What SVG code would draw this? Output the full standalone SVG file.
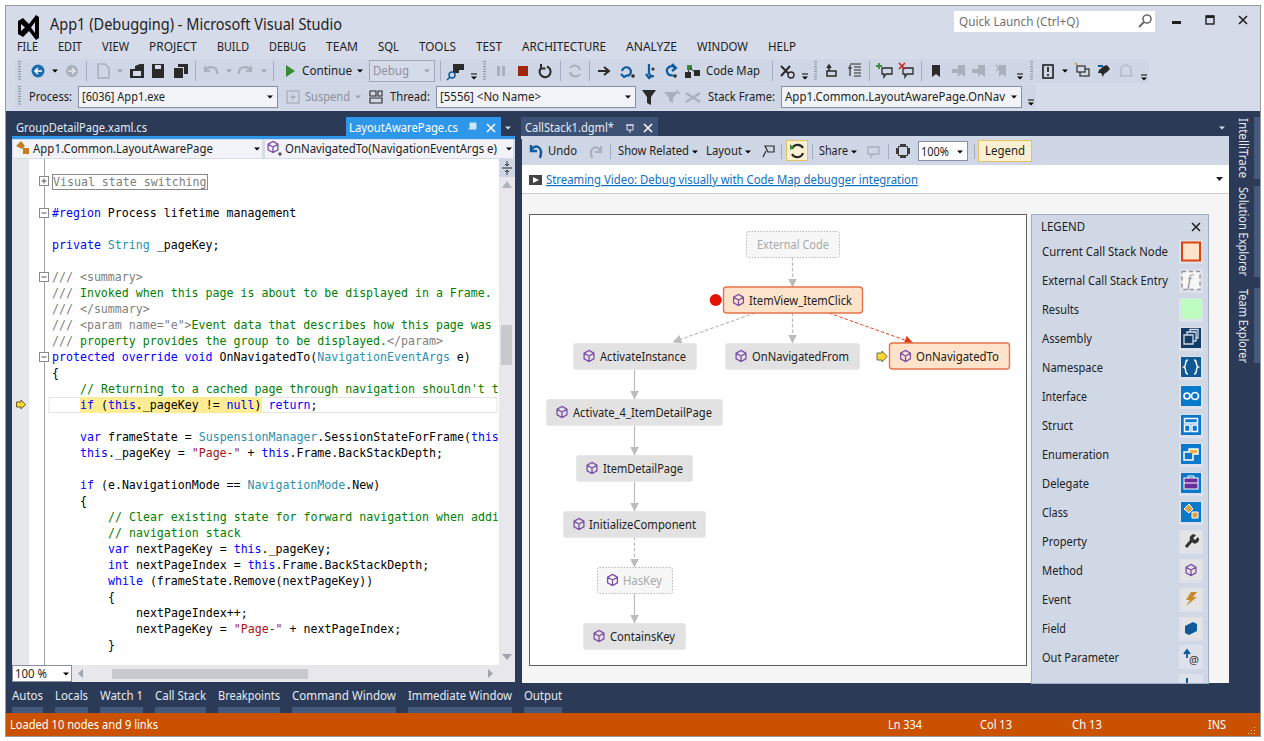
<svg xmlns="http://www.w3.org/2000/svg" width="1264" height="741" viewBox="0 0 1264 741">
<style>
text{font-family:"Noto Sans","Open Sans","Liberation Sans",sans-serif;font-size:12px;fill:#1e1e1e}
.title{font-size:16px}
.g{fill:#8d929c}
.lt{fill:#e6eaf2}
.w{fill:#fff}
.c{font-family:"DejaVu Sans Mono","Liberation Mono",monospace;font-size:11.6px;fill:#000}
.k{fill:#0000ff}.t{fill:#2b91af}.m{fill:#008000}.d{fill:#808080}.s{fill:#a31515}
.combo{fill:#f1f3f9;stroke:#8590a6}
.sep{stroke:#a4adc0;stroke-width:1}
.grip{stroke:#8b93a4;stroke-width:3;stroke-dasharray:1 1.5;fill:none}
.caret{fill:#1e1e1e}
.gc{fill:#9aa0ac}
.ic{fill:#2a2a2a}
.gi{fill:#a9afbb}
.bi{fill:#0e5a9c}
.node{fill:#e2e2e2;stroke:#e8e8e8}
.cur{fill:#fde3c9;stroke:#e8734a;stroke-width:1.4}
.ext{fill:#f7f7f7;stroke:#b9b9b9;stroke-dasharray:1.5 1.5}
.lnk{fill:none;stroke:#bcbcbc;stroke-width:1.2}
.dash{stroke-dasharray:3.500 2}
.red{stroke:#e8431a;stroke-width:1}
.halo{fill:#dce1ec}
.btn{fill:#fdf0d2;stroke:#e5c365}
.bar{fill:#45597c}
.fold{fill:#fff;stroke:#8a8a8a}
</style>
<defs>
<g id="method"><path d="M0-5.6 4.9-2.8V2.8L0 5.6-4.9 2.8V-2.8ZM-4.9-2.8 0 0 4.9-2.8M0 0V5.6" fill="none" stroke="#7b4fa8" stroke-width="1.3"/></g>
<path id="cr" d="M-3-1.6H3L0 1.6Z"/>
<path id="over" d="M-3-3.5H3V-2.5H-3ZM-3-.5H3L0 2.5Z"/>
<marker id="ah" markerWidth="9" markerHeight="10" refX="8.5" refY="4.5" orient="auto" markerUnits="userSpaceOnUse"><path d="M0 0 9 4.5 0 9Z" fill="#bcbcbc"/></marker>
<marker id="ahr" markerWidth="9" markerHeight="10" refX="8.5" refY="4.5" orient="auto" markerUnits="userSpaceOnUse"><path d="M0 0 9 4.5 0 9Z" fill="#e03c10"/></marker>
<clipPath id="code"><rect x="30" y="160" width="468" height="505"/></clipPath>
<clipPath id="leg"><rect x="1031" y="214" width="178" height="469"/></clipPath>
</defs>

<rect width="1264" height="741" fill="#fff"/>
<rect x="5.5" y="5.5" width="1255" height="731" fill="#d6dbe9" stroke="#9b9b9b"/>

<g id="titlebar">
<path d="M18 21 23 18 29 24 36 15 39 17V38L36 40 29 31 23 37 18 34ZM21 24V31L25 27.500ZM35 22 31 27.500 35 33Z" fill="#000" fill-rule="evenodd"/>
<text class="title" x="50" y="30" textLength="292" lengthAdjust="spacingAndGlyphs">App1 (Debugging) - Microsoft Visual Studio</text>
<rect x="954" y="11" width="201" height="21" fill="#fff"/>
<text x="959" y="26" style="fill:#717171" textLength="120" lengthAdjust="spacingAndGlyphs">Quick Launch (Ctrl+Q)</text>
<circle cx="1147" cy="19" r="4" fill="none" stroke="#6b6b6b" stroke-width="1.6"/><path d="M1144 22 1139 27" stroke="#6b6b6b" stroke-width="2"/>
<rect x="1172" y="21" width="9" height="3" fill="#1e1e1e"/>
<rect x="1206" y="16" width="8" height="8" fill="none" stroke="#1e1e1e" stroke-width="1.4"/><rect x="1206" y="15.500" width="8" height="2.500" fill="#1e1e1e"/>
<path d="M1239 16 1247 24M1247 16 1239 24" stroke="#1e1e1e" stroke-width="1.6"/>
</g>

<g id="menu">
<text x="17" y="51" textLength="21" lengthAdjust="spacingAndGlyphs">FILE</text>
<text x="58" y="51" textLength="24" lengthAdjust="spacingAndGlyphs">EDIT</text>
<text x="102" y="51" textLength="27" lengthAdjust="spacingAndGlyphs">VIEW</text>
<text x="149" y="51" textLength="48" lengthAdjust="spacingAndGlyphs">PROJECT</text>
<text x="217" y="51" textLength="32" lengthAdjust="spacingAndGlyphs">BUILD</text>
<text x="269" y="51" textLength="37" lengthAdjust="spacingAndGlyphs">DEBUG</text>
<text x="326" y="51" textLength="32" lengthAdjust="spacingAndGlyphs">TEAM</text>
<text x="378" y="51" textLength="21" lengthAdjust="spacingAndGlyphs">SQL</text>
<text x="419" y="51" textLength="37" lengthAdjust="spacingAndGlyphs">TOOLS</text>
<text x="476" y="51" textLength="26" lengthAdjust="spacingAndGlyphs">TEST</text>
<text x="522" y="51" textLength="84" lengthAdjust="spacingAndGlyphs">ARCHITECTURE</text>
<text x="626" y="51" textLength="51" lengthAdjust="spacingAndGlyphs">ANALYZE</text>
<text x="697" y="51" textLength="51" lengthAdjust="spacingAndGlyphs">WINDOW</text>
<text x="768" y="51" textLength="28" lengthAdjust="spacingAndGlyphs">HELP</text>
</g>

<g id="toolbars">
<rect x="15" y="59" width="1134" height="24" fill="#cfd6e5"/>
<rect x="15" y="84" width="1021" height="25" fill="#cfd6e5"/>
<path class="grip" d="M19.500 61V81M19.500 86V106M484.500 61V81M815.500 61V81M1031.500 61V81"/>
<circle cx="38" cy="71" r="6.500" fill="#1b6db0"/><path d="M35 71H42M38 68 35 71 38 74" stroke="#fff" stroke-width="1.6" fill="none"/>
<use href="#cr" x="55" y="71"/>
<circle cx="72" cy="71" r="6" fill="#a9afbb"/><path d="M68 71H75M72 68 75 71 72 74" stroke="#e6e9f0" stroke-width="1.5" fill="none"/>
<path class="sep" d="M86.500 61V81M195.500 61V81M273.500 61V81M440.500 61V81M560.500 61V81M589.500 61V81M772.500 61V81M869.500 61V81M921.500 61V81"/>
<path d="M98 64H105L109 68V78H98Z" fill="none" stroke="#a9afbb" stroke-width="1.5"/>
<use href="#cr" x="120" y="71" class="gc"/>
<path class="ic" d="M130 69H135V66L140 64H144V78H130Z"/><rect x="133" y="71" width="8" height="5" fill="#d6dbe9"/>
<path class="ic" d="M152 64H164V78H152Z"/><rect x="155" y="65" width="6" height="4" fill="#d6dbe9"/>
<path class="ic" d="M174 68H183V78H174ZM178 64H188V74H184V67H178Z"/>
<path d="M205 66V71H210M205 71C208 65 218 66 217 74" fill="none" stroke="#a9afbb" stroke-width="2.200"/>
<use href="#cr" x="229" y="71" class="gc"/>
<path d="M251 66V71H246M251 71C248 65 238 66 239 74" fill="none" stroke="#a9afbb" stroke-width="2.200"/>
<use href="#cr" x="264" y="71" class="gc"/>
<path d="M286 65 295 71 286 77Z" fill="#388a34"/>
<text x="302" y="75" textLength="50" lengthAdjust="spacingAndGlyphs">Continue</text>
<use href="#cr" x="360" y="71"/>
<rect x="369.500" y="60.500" width="65" height="21" fill="#d6dbe9" stroke="#a0a8b8"/>
<text class="g" x="373" y="75" textLength="36" lengthAdjust="spacingAndGlyphs">Debug</text>
<use href="#cr" x="427" y="71" class="gc"/>
<path class="ic" d="M453 64H464V70H459V73H453Z"/><circle cx="452" cy="75" r="3" fill="none" stroke="#0e5a9c" stroke-width="1.500"/><path d="M450 77 447 80" stroke="#0e5a9c" stroke-width="1.500"/>
<use href="#over" x="474" y="77"/>
<path class="gi" d="M497 66H500V76H497ZM502 66H505V76H502Z"/>
<rect x="518" y="66" width="10" height="10" fill="#a1260d"/>
<path d="M541 68A5.500 5.500 0 1 0 547 66.500M541 64V68.500H545.500" fill="none" stroke="#2a2a2a" stroke-width="2"/>
<path d="M570 68A5.500 5.500 0 0 1 580 70M580 74A5.500 5.500 0 0 1 570 72" fill="none" stroke="#a9afbb" stroke-width="2"/>
<path d="M598 71H608M604 67 609 71 604 75" fill="none" stroke="#2a2a2a" stroke-width="2"/>
<path d="M622 71A4.500 4.500 0 1 1 628 76M621 74 624 77 628 75" fill="none" stroke="#0e5a9c" stroke-width="2.200"/><circle cx="633" cy="76" r="1.800" class="ic"/>
<path d="M649 64V71A4 4 0 0 0 654 76M646 74 649 78 652 76" fill="none" stroke="#0e5a9c" stroke-width="2.200"/><circle cx="653" cy="69" r="1.500" class="ic"/>
<path d="M675 68A4.500 4.500 0 1 0 673 75M672 64 676 68 672 71" fill="none" stroke="#0e5a9c" stroke-width="2.200"/><circle cx="675" cy="76" r="1.800" class="ic"/>
<path d="M687 65H692V70H687Z" fill="#388a34"/><path class="ic" d="M694 70H700V76H694ZM685 72H691V78H685Z"/><path d="M690 68 696 73M689 70 688 73" stroke="#2a2a2a"/>
<text x="706" y="75" textLength="54" lengthAdjust="spacingAndGlyphs">Code Map</text>
<path d="M781 66 791 76M781 76 790 66" stroke="#2a2a2a" stroke-width="2"/><circle cx="791" cy="75" r="3" fill="#d6dbe9" stroke="#2a2a2a" stroke-width="1.400"/>
<use href="#over" x="805" y="77"/>
<path d="M827 71H836V76H827ZM829 71V66M827 68 829 65 831 68" fill="none" stroke="#2a2a2a" stroke-width="1.500"/>
<path d="M850 64H861M854 67H861M854 70H861M854 73H861M854 76H861M850 65V76M848 68H852" fill="none" stroke="#2a2a2a" stroke-width="1.200"/>
<path d="M882 68H892V74H886L884 77V74H882Z" fill="none" stroke="#2a2a2a" stroke-width="1.300"/><path d="M876 66H882M879 63V69" stroke="#388a34" stroke-width="1.800"/>
<path d="M903 68H913V74H907L905 77V74H903Z" fill="none" stroke="#2a2a2a" stroke-width="1.300"/><path d="M899 63 905 69M905 63 899 69" stroke="#c5291c" stroke-width="1.700"/>
<path class="ic" d="M932 65H940V77L936 74 932 77Z"/>
<path class="gi" d="M958 65H965V77L961 74 958 77ZM952 69H958V73H952Z"/>
<path class="gi" d="M978 65H985V77L981 74 978 77ZM972 69H978V73H972Z"/>
<path class="gi" d="M999 65H1006V77L1002 74 999 77Z"/><path d="M996 65 1002 71M1002 65 996 71" stroke="#a9afbb" stroke-width="1.600"/>
<use href="#over" x="1020" y="77"/>
<rect x="1043" y="65" width="10" height="13" fill="none" stroke="#2a2a2a" stroke-width="1.700"/><path d="M1048 67V72M1048 74V76" stroke="#2a2a2a" stroke-width="1.800"/>
<use href="#cr" x="1065" y="71"/>
<rect x="1080" y="69" width="9" height="7" fill="none" stroke="#2a2a2a" stroke-width="1.200"/><rect x="1077" y="66" width="8" height="6" fill="#d6dbe9" stroke="#2a2a2a" stroke-width="1.200"/><path d="M1075 63 1077 65" stroke="#c98a1a" stroke-width="1.500"/>
<path class="ic" d="M1099 70 1104 66 1107 65 1110 69 1107 72 1104 74 1103 77 1101 73 1098 73Z"/><path d="M1098 66H1103" stroke="#0e5a9c" stroke-width="2"/>
<path d="M1121 76V70A5 5 0 0 1 1131 70V76M1120 76H1133" fill="none" stroke="#b7bcc8" stroke-width="1.600"/>
<use href="#over" x="1144" y="78"/>
<text x="29" y="101" textLength="43" lengthAdjust="spacingAndGlyphs">Process:</text>
<rect class="combo" x="78.500" y="86.500" width="199" height="21"/>
<text x="82" y="101" textLength="83" lengthAdjust="spacingAndGlyphs">[6036] App1.exe</text>
<use href="#cr" x="270" y="97"/>
<rect x="287" y="91" width="12" height="12" fill="none" stroke="#a9afbb" stroke-width="1.300"/><path d="M294 93 290 98H293L292 101 296 96H293Z" class="gi"/>
<text class="g" x="305" y="101" textLength="45" lengthAdjust="spacingAndGlyphs">Suspend</text>
<use href="#cr" x="358" y="97" class="gc"/>
<path d="M370 91H376V96H370ZM370 98H382V103H370ZM378 91H382V96H378Z" fill="none" stroke="#2a2a2a" stroke-width="1.100"/>
<text x="390" y="101" textLength="40" lengthAdjust="spacingAndGlyphs">Thread:</text>
<rect class="combo" x="436.500" y="86.500" width="199" height="21"/>
<text x="440" y="101" textLength="101" lengthAdjust="spacingAndGlyphs">[5556] &lt;No Name&gt;</text>
<use href="#cr" x="628" y="97"/>
<path class="ic" d="M642 90H656L651 97V105L647 103V97Z"/>
<path class="gi" d="M664 92H678L673 98V103L669 101V98Z"/><path d="M676 90 680 94" stroke="#a9afbb" stroke-width="1.500"/>
<path d="M686 93 700 102M686 102 700 93" stroke="#a9afbb" stroke-width="2.200"/>
<text x="708" y="101" textLength="67" lengthAdjust="spacingAndGlyphs">Stack Frame:</text>
<rect class="combo" x="781.500" y="86.500" width="240" height="21"/>
<text x="785" y="101" textLength="220" lengthAdjust="spacingAndGlyphs">App1.Common.LayoutAwarePage.OnNav</text>
<use href="#cr" x="1014" y="97"/>
<use href="#over" x="1031" y="103"/>
</g>

<g id="dock">
<rect x="6" y="111" width="1254" height="602" fill="#2a3a57"/>
<text class="lt" x="16" y="132" textLength="131" lengthAdjust="spacingAndGlyphs">GroupDetailPage.xaml.cs</text>
<rect x="346" y="117" width="155" height="19" fill="#2f97ea"/>
<text class="w" x="349" y="132" textLength="109" lengthAdjust="spacingAndGlyphs">LayoutAwarePage.cs</text>
<path d="M470 123H476V129H470ZM468 130 471 127" fill="#cfe6fa" stroke="#cfe6fa"/>
<path d="M487 124 495 132M495 124 487 132" stroke="#fff" stroke-width="1.500"/>
<use href="#cr" x="508" y="128" fill="#d6dbe9"/>
<rect x="521" y="117" width="137" height="19" fill="#3d5174"/>
<text class="lt" x="525" y="132" textLength="89" lengthAdjust="spacingAndGlyphs">CallStack1.dgml*</text>
<path d="M627 125V130H633V125ZM630 130V133M626 125H634" fill="none" stroke="#dfe4ee"/>
<path d="M644 124 652 132M652 124 644 132" stroke="#fff" stroke-width="1.500"/>
<use href="#cr" x="1222" y="128" fill="#d6dbe9"/>
<rect x="12" y="136" width="503" height="3" fill="#2f97ea"/>
<rect x="521" y="136" width="708" height="3" fill="#cfd6e5"/>
<g id="side-tabs">
<rect x="1254" y="117" width="6" height="62" class="bar"/>
<rect x="1254" y="186" width="6" height="91" class="bar"/>
<rect x="1254" y="288" width="6" height="75" class="bar"/>
<text class="lt" transform="translate(1239 118) rotate(90)" textLength="60" lengthAdjust="spacingAndGlyphs">IntelliTrace</text>
<text class="lt" transform="translate(1239 187) rotate(90)" textLength="89" lengthAdjust="spacingAndGlyphs">Solution Explorer</text>
<text class="lt" transform="translate(1239 289) rotate(90)" textLength="74" lengthAdjust="spacingAndGlyphs">Team Explorer</text>
</g>
</g>

<g id="editor">
<rect x="12" y="139" width="503" height="543" fill="#fff"/>
<rect x="12" y="139" width="503" height="20" fill="#d6dbe9"/>
<rect class="combo" x="12.500" y="139.500" width="250" height="19" style="stroke:#d6dbe9"/>
<rect class="combo" x="264.500" y="139.500" width="249" height="19" style="stroke:#d6dbe9"/>
<path d="M16 146 21 141 25 146 22 149ZM23 148H29V154H23Z" fill="#c67b1c"/>
<text x="33" y="153" textLength="180" lengthAdjust="spacingAndGlyphs">App1.Common.LayoutAwarePage</text>
<use href="#cr" x="257" y="149"/>
<g transform="translate(273 147)"><use href="#method"/></g><path d="M278 154H282M280 152V156" stroke="#2a2a2a"/>
<text x="285" y="153" textLength="212" lengthAdjust="spacingAndGlyphs">OnNavigatedTo(NavigationEventArgs e)</text>
<use href="#cr" x="509" y="149"/>
<rect x="12" y="159" width="17" height="506" fill="#e6e7e8"/>
<path d="M44.500 159V665" stroke="#a5a5a5"/>
<rect x="49" y="397.500" width="448" height="15" fill="#fff" stroke="#e4e4e4"/>
<rect x="80" y="397" width="182" height="16" fill="#fdec92"/>
<rect x="52.500" y="174.500" width="155" height="15" fill="#fff" stroke="#8a8a8a"/>
<g><rect class="fold" x="39.500" y="176.500" width="9" height="9"/><path d="M41.500 181H46.500M44 178.500V183.500" stroke="#555"/>
<rect class="fold" x="39.500" y="208.500" width="9" height="9"/><path d="M41.500 213H46.500" stroke="#555"/>
<rect class="fold" x="39.500" y="272.500" width="9" height="9"/><path d="M41.500 277H46.500" stroke="#555"/>
<rect class="fold" x="39.500" y="352.500" width="9" height="9"/><path d="M41.500 357H46.500" stroke="#555"/></g>
<path d="M16.500 402H21V400L25.500 404.500 21 409V407H16.500Z" fill="#fdd835" stroke="#6a5a20"/>
<g clip-path="url(#code)">
<text class="c d" x="53" y="186">Visual state switching</text>
<text class="c" x="52" y="217"><tspan class="k">#region</tspan> Process lifetime management</text>
<text class="c" x="52" y="249"><tspan class="k">private</tspan> <tspan class="t">String</tspan> _pageKey;</text>
<text class="c d" x="52" y="281">/// &lt;summary&gt;</text>
<text class="c m" x="52" y="297"><tspan class="d">///</tspan> Invoked when this page is about to be displayed in a Frame.</text>
<text class="c d" x="52" y="313">/// &lt;/summary&gt;</text>
<text class="c m" x="52" y="329"><tspan class="d">/// &lt;param name="e"&gt;</tspan>Event data that describes how this page was</text>
<text class="c m" x="52" y="345"><tspan class="d">///</tspan> property provides the group to be displayed.<tspan class="d">&lt;/param&gt;</tspan></text>
<text class="c" x="52" y="361"><tspan class="k">protected override void</tspan> OnNavigatedTo(<tspan class="t">NavigationEventArgs</tspan> e)</text>
<text class="c" x="52" y="377">{</text>
<text class="c m" x="80" y="393">// Returning to a cached page through navigation shouldn't t</text>
<text class="c" x="80" y="409"><tspan class="k">if</tspan> (<tspan class="k">this</tspan>._pageKey != <tspan class="k">null</tspan>) <tspan class="k">return</tspan>;</text>
<text class="c" x="80" y="441"><tspan class="k">var</tspan> frameState = <tspan class="t">SuspensionManager</tspan>.SessionStateForFrame(<tspan class="k">this</tspan></text>
<text class="c" x="80" y="457"><tspan class="k">this</tspan>._pageKey = <tspan class="s">"Page-"</tspan> + <tspan class="k">this</tspan>.Frame.BackStackDepth;</text>
<text class="c" x="80" y="489"><tspan class="k">if</tspan> (e.NavigationMode == <tspan class="t">NavigationMode</tspan>.New)</text>
<text class="c" x="80" y="505">{</text>
<text class="c m" x="108" y="521">// Clear existing state for forward navigation when addi</text>
<text class="c m" x="108" y="537">// navigation stack</text>
<text class="c" x="108" y="553"><tspan class="k">var</tspan> nextPageKey = <tspan class="k">this</tspan>._pageKey;</text>
<text class="c" x="108" y="569"><tspan class="k">int</tspan> nextPageIndex = <tspan class="k">this</tspan>.Frame.BackStackDepth;</text>
<text class="c" x="108" y="585"><tspan class="k">while</tspan> (frameState.Remove(nextPageKey))</text>
<text class="c" x="108" y="601">{</text>
<text class="c" x="136" y="617">nextPageIndex++;</text>
<text class="c" x="136" y="633">nextPageKey = <tspan class="s">"Page-"</tspan> + nextPageIndex;</text>
<text class="c" x="108" y="649">}</text>
</g>
<rect x="499" y="159" width="16" height="506" fill="#e8e8ec"/>
<rect x="499" y="159" width="16" height="18" fill="#cfd6e5"/>
<path d="M502 168H512M507 161V166M505 164 507 166 509 164M507 175V170M505 172 507 170 509 172" stroke="#2a2a2a" fill="none"/>
<path d="M502 188 507 181 512 188Z" fill="#b0b4bd"/>
<rect x="501" y="325" width="11" height="40" fill="#c8c9cf"/>
<path d="M502 654 512 654 507 660Z" fill="#a0a4ae"/>
<rect x="12" y="665" width="503" height="17" fill="#e8e8ec"/>
<rect x="12.500" y="665.500" width="59" height="16" fill="#fff" stroke="#8590a6"/>
<text x="15" y="678" textLength="32" lengthAdjust="spacingAndGlyphs">100 %</text>
<use href="#cr" x="66" y="674"/>
<path d="M83 669V678L78 673.500Z" fill="#a0a4ae"/>
<rect x="112" y="669" width="196" height="10" fill="#c8c9cf"/>
<path d="M488 669V678L493 673.500Z" fill="#a0a4ae"/>
</g>

<g id="map-pane">
<rect x="522" y="139" width="707" height="26" fill="#cfd6e5"/>
<path d="M531 145V151H537M531 151C534 143 544 146 540 158" fill="none" stroke="#0e5a9c" stroke-width="2.400"/>
<text x="548" y="155" textLength="29" lengthAdjust="spacingAndGlyphs">Undo</text>
<path d="M601 146V152H595M601 152C598 144 588 147 592 158" fill="none" stroke="#a9afbb" stroke-width="2.200"/>
<path class="sep" d="M610.500 144V159M781.500 144V159M812.500 144V159M888.500 144V159M974.500 144V159"/>
<text x="618" y="155" textLength="71" lengthAdjust="spacingAndGlyphs">Show Related</text>
<use href="#cr" x="695" y="152"/>
<text x="706" y="155" textLength="36" lengthAdjust="spacingAndGlyphs">Layout</text>
<use href="#cr" x="748" y="152"/>
<path d="M765 146H774V152H768ZM763 157 766 151" fill="none" stroke="#2a2a2a" stroke-width="1.200"/>
<rect class="btn" x="786.500" y="140.500" width="21" height="20"/>
<path d="M792 149A6 6 0 0 1 803 148M803 153A6 6 0 0 1 792 154" fill="none" stroke="#2a2a2a" stroke-width="2.200"/><path d="M790 144 794 148 790 150Z" fill="#388a34"/>
<text x="819" y="155" textLength="29" lengthAdjust="spacingAndGlyphs">Share</text>
<use href="#cr" x="854" y="152"/>
<path d="M868 147H879V154H873L871 157V154H868Z" fill="none" stroke="#a9afbb" stroke-width="1.300"/>
<rect x="896" y="144" width="14" height="14" fill="#3c3c3c"/><rect x="899" y="147" width="8" height="8" fill="#cfd6e5"/><path d="M896 144H900V146H898V148H896ZM910 144H906V146H908V148H910ZM896 158H900V156H898V154H896ZM910 158H906V156H908V154H910Z" fill="#cfd6e5"/>
<rect x="918.500" y="141.500" width="49" height="19" fill="#fff" stroke="#8590a6"/>
<text x="921" y="156" textLength="28" lengthAdjust="spacingAndGlyphs">100%</text>
<use href="#cr" x="960" y="152"/>
<rect class="btn" x="978.500" y="140.500" width="53" height="21"/>
<text x="985" y="155" textLength="40" lengthAdjust="spacingAndGlyphs">Legend</text>
<rect x="522" y="165" width="707" height="28" fill="#fff"/>
<rect x="529" y="175" width="13" height="10" fill="#444"/><path d="M533 177 539 180 533 183Z" fill="#fff"/>
<text x="546" y="184" style="fill:#0e70c0;text-decoration:underline" textLength="372" lengthAdjust="spacingAndGlyphs">Streaming Video: Debug visually with Code Map debugger integration</text>
<path d="M1216 177H1223L1219.500 181Z" fill="#1e1e1e"/>
<rect x="522" y="193" width="707" height="1" fill="#cccccc"/>
<rect x="522" y="194" width="707" height="489" fill="#f5f5f5"/>
<rect x="529.500" y="214.500" width="497" height="451" fill="#fff" stroke="#5f5f5f"/>
</g>

<g id="connectors">
<path class="lnk dash" d="M792.500 257V287" marker-end="url(#ah)"/>
<path class="lnk dash" d="M755 313 673 342" marker-end="url(#ah)"/>
<path class="lnk dash" d="M792.500 313V343" marker-end="url(#ah)"/>
<path class="lnk dash red" d="M829 313 913 343" marker-end="url(#ahr)"/>
<path class="lnk" d="M634.500 369V399" marker-end="url(#ah)"/>
<path class="lnk" d="M634.500 425V455" marker-end="url(#ah)"/>
<path class="lnk" d="M634.500 481V511" marker-end="url(#ah)"/>
<path class="lnk dash" d="M634.500 537V567" marker-end="url(#ah)"/>
<path class="lnk" d="M634.500 593V623" marker-end="url(#ah)"/>
</g>

<g id="node-external-code"><rect class="ext" x="746.500" y="231.500" width="93" height="26" rx="2"/><text x="757" y="249" style="fill:#a9a9a9" textLength="72" lengthAdjust="spacingAndGlyphs">External Code</text></g>
<g id="node-itemclick"><circle cx="715.700" cy="300" r="6" fill="#e51400"/><rect class="cur" x="723.500" y="287" width="139" height="26" rx="3"/><use href="#method" x="738.500" y="300"/><text x="749" y="305" textLength="103" lengthAdjust="spacingAndGlyphs">ItemView_ItemClick</text></g>
<g id="node-activateinstance"><rect class="node" x="573.500" y="343.500" width="123" height="26" rx="2"/><use href="#method" x="589" y="356"/><text x="600" y="361" textLength="86" lengthAdjust="spacingAndGlyphs">ActivateInstance</text></g>
<g id="node-onnavigatedfrom"><rect class="node" x="725.500" y="343.500" width="134" height="26" rx="2"/><use href="#method" x="741" y="356"/><text x="752" y="361" textLength="97" lengthAdjust="spacingAndGlyphs">OnNavigatedFrom</text></g>
<g id="node-onnavigatedto"><path d="M877 353H882V351L887 356.500 882 362V360H877Z" fill="#fdd835" stroke="#6a6a4a"/><rect class="cur" x="889.500" y="343" width="120" height="26" rx="3"/><use href="#method" x="905.500" y="356"/><text x="916" y="361" textLength="83" lengthAdjust="spacingAndGlyphs">OnNavigatedTo</text></g>
<g id="node-activate4"><rect class="node" x="546.500" y="399.500" width="176" height="26" rx="2"/><use href="#method" x="562" y="412"/><text x="573" y="417" textLength="139" lengthAdjust="spacingAndGlyphs">Activate_4_ItemDetailPage</text></g>
<g id="node-itemdetailpage"><rect class="node" x="576.500" y="455.500" width="116" height="26" rx="2"/><use href="#method" x="592" y="468"/><text x="603" y="473" textLength="80" lengthAdjust="spacingAndGlyphs">ItemDetailPage</text></g>
<g id="node-initializecomponent"><rect class="node" x="563.500" y="511.500" width="142" height="26" rx="2"/><use href="#method" x="579" y="524"/><text x="589" y="529" textLength="107" lengthAdjust="spacingAndGlyphs">InitializeComponent</text></g>
<g id="node-haskey"><rect class="ext" x="597.500" y="567.500" width="75" height="26" rx="2"/><use href="#method" x="612.500" y="580"/><text x="623" y="585" style="fill:#a9a9a9" textLength="39" lengthAdjust="spacingAndGlyphs">HasKey</text></g>
<g id="node-containskey"><rect class="node" x="583.500" y="623.500" width="102" height="26" rx="2"/><use href="#method" x="599" y="636"/><text x="610" y="641" textLength="65" lengthAdjust="spacingAndGlyphs">ContainsKey</text></g>

<g id="legend">
<rect x="1031.500" y="214.500" width="177" height="469" fill="#d0d7e5" stroke="#a0aec5"/>
<text x="1041" y="231" textLength="44" lengthAdjust="spacingAndGlyphs">LEGEND</text>
<path d="M1192 223 1200 231M1200 223 1192 231" stroke="#1e1e1e" stroke-width="1.500"/>
<g clip-path="url(#leg)">
<g><rect class="halo" x="1179" y="240" width="24" height="24"/><rect x="1182" y="242.500" width="18" height="18" fill="#fde3c9" stroke="#e0440e" stroke-width="2"/><text x="1042" y="256" textLength="126" lengthAdjust="spacingAndGlyphs">Current Call Stack Node</text></g>
<g><rect class="halo" x="1179" y="269" width="24" height="24"/><rect x="1182" y="271.500" width="18" height="18" fill="#f7f7f7" stroke="#999" stroke-width="1.500" stroke-dasharray="4 3"/><text x="1187" y="286" style="font-family:'Liberation Serif',serif;font-style:italic;font-size:17px;fill:#999">f</text><text x="1042" y="285" textLength="126" lengthAdjust="spacingAndGlyphs">External Call Stack Entry</text></g>
<g><rect class="halo" x="1179" y="298" width="24" height="24"/><rect x="1181" y="299" width="20" height="20" fill="#bdfdbf"/><text x="1042" y="314" textLength="37" lengthAdjust="spacingAndGlyphs">Results</text></g>
<g><rect class="halo" x="1179" y="327" width="24" height="24"/><rect x="1181" y="328" width="20" height="20" fill="#0f3d68"/><path d="M1184 335H1193V344H1184ZM1187 335V332H1196V341H1193M1190 332V329.500H1198V338H1196" fill="none" stroke="#d5d9e2" stroke-width="1.300"/><text x="1042" y="343" textLength="50" lengthAdjust="spacingAndGlyphs">Assembly</text></g>
<g><rect class="halo" x="1179" y="356" width="24" height="24"/><rect x="1181" y="357" width="20" height="20" fill="#0f5a96"/><path d="M1188 360C1184 360 1187 366 1184 367 1187 368 1184 374 1188 374M1194 360C1198 360 1195 366 1198 367 1195 368 1198 374 1194 374" fill="none" stroke="#fff" stroke-width="1.500"/><text x="1042" y="372" textLength="61" lengthAdjust="spacingAndGlyphs">Namespace</text></g>
<g><rect class="halo" x="1179" y="385" width="24" height="24"/><rect x="1181" y="386" width="20" height="20" fill="#0a79cc"/><circle cx="1187" cy="396" r="3" fill="none" stroke="#fff" stroke-width="1.700"/><circle cx="1195" cy="396" r="3.500" fill="none" stroke="#fff" stroke-width="1.700"/><text x="1042" y="401" textLength="45" lengthAdjust="spacingAndGlyphs">Interface</text></g>
<g><rect class="halo" x="1179" y="414" width="24" height="24"/><rect x="1181" y="415" width="20" height="20" fill="#0a79cc"/><path d="M1184.500 418.500H1197.500V423H1184.500ZM1184.500 425H1190V431.500H1184.500ZM1192 425H1197.500V431.500H1192Z" fill="none" stroke="#fff" stroke-width="1.500"/><text x="1042" y="430" textLength="31" lengthAdjust="spacingAndGlyphs">Struct</text></g>
<g><rect class="halo" x="1179" y="443" width="24" height="24"/><rect x="1181" y="444" width="20" height="20" fill="#0a79cc"/><rect x="1184" y="452" width="9" height="8" fill="none" stroke="#fff" stroke-width="1.500"/><path d="M1189 452V449H1198V454H1193" fill="#f0b040" stroke="#fff" stroke-width="1.400"/><text x="1042" y="459" textLength="67" lengthAdjust="spacingAndGlyphs">Enumeration</text></g>
<g><rect class="halo" x="1179" y="472" width="24" height="24"/><rect x="1181" y="473" width="20" height="20" fill="#0a79cc"/><rect x="1184" y="478" width="14" height="11" fill="#6a2c9b" stroke="#fff"/><path d="M1188 478V476H1194V478M1184 483H1198" fill="none" stroke="#fff"/><text x="1042" y="488" textLength="47" lengthAdjust="spacingAndGlyphs">Delegate</text></g>
<g><rect class="halo" x="1179" y="501" width="24" height="24"/><rect x="1181" y="502" width="20" height="20" fill="#0a79cc"/><path d="M1184 509 1189 504 1193 509 1189 513ZM1192 512H1198V518H1192Z" fill="#e0a040" stroke="#fff"/><text x="1042" y="517" textLength="26" lengthAdjust="spacingAndGlyphs">Class</text></g>
<g><rect class="halo" x="1179" y="530" width="24" height="24"/><rect x="1181" y="531" width="20" height="20" fill="#e4e4e4"/><path d="M1186 547 1192 540" stroke="#333" stroke-width="3"/><path d="M1191 541A3.500 3.500 0 0 1 1196 535.500L1193 538 1195 540 1198 537A3.500 3.500 0 0 1 1192 542Z" fill="#333"/><text x="1042" y="546" textLength="45" lengthAdjust="spacingAndGlyphs">Property</text></g>
<g><rect class="halo" x="1179" y="559" width="24" height="24"/><rect x="1181" y="560" width="20" height="20" fill="#e4e4e4"/><use href="#method" x="1191" y="570"/><text x="1042" y="575" textLength="41" lengthAdjust="spacingAndGlyphs">Method</text></g>
<g><rect class="halo" x="1179" y="588" width="24" height="24"/><rect x="1181" y="589" width="20" height="20" fill="#e4e4e4"/><path d="M1191 592H1197L1193 597H1197L1186 606 1190 600H1186Z" fill="#c88a2a"/><text x="1042" y="604" textLength="29" lengthAdjust="spacingAndGlyphs">Event</text></g>
<g><rect class="halo" x="1179" y="617" width="24" height="24"/><rect x="1181" y="618" width="20" height="20" fill="#e4e4e4"/><path d="M1185 626 1193 622 1197 624V631L1189 635 1185 633Z" fill="#0e5a9c"/><text x="1042" y="633" textLength="24" lengthAdjust="spacingAndGlyphs">Field</text></g>
<g><rect class="halo" x="1179" y="645" width="24" height="24"/><path d="M1187 658V652M1184 654 1187 650 1190 654" fill="#0e5a9c" stroke="#0e5a9c" stroke-width="1.800"/><text x="1189" y="664" style="font-size:11px;fill:#333">@</text><text x="1042" y="662" textLength="77" lengthAdjust="spacingAndGlyphs">Out Parameter</text></g>
<g><rect class="halo" x="1179" y="674" width="24" height="24"/><path d="M1187 678V684" stroke="#0e5a9c" stroke-width="2"/></g>
</g>
</g>

<g id="tool-tabs">
<text class="lt" x="12" y="700" textLength="31" lengthAdjust="spacingAndGlyphs">Autos</text><rect class="bar" x="12" y="707" width="31" height="6"/>
<text class="lt" x="55" y="700" textLength="33" lengthAdjust="spacingAndGlyphs">Locals</text><rect class="bar" x="55" y="707" width="33" height="6"/>
<text class="lt" x="100" y="700" textLength="43" lengthAdjust="spacingAndGlyphs">Watch 1</text><rect class="bar" x="100" y="707" width="43" height="6"/>
<text class="lt" x="155" y="700" textLength="51" lengthAdjust="spacingAndGlyphs">Call Stack</text><rect class="bar" x="155" y="707" width="51" height="6"/>
<text class="lt" x="218" y="700" textLength="62" lengthAdjust="spacingAndGlyphs">Breakpoints</text><rect class="bar" x="218" y="707" width="62" height="6"/>
<text class="lt" x="292" y="700" textLength="104" lengthAdjust="spacingAndGlyphs">Command Window</text><rect class="bar" x="292" y="707" width="104" height="6"/>
<text class="lt" x="408" y="700" textLength="104" lengthAdjust="spacingAndGlyphs">Immediate Window</text><rect class="bar" x="408" y="707" width="104" height="6"/>
<text class="lt" x="524" y="700" textLength="38" lengthAdjust="spacingAndGlyphs">Output</text><rect class="bar" x="524" y="707" width="38" height="6"/>
</g>

<g id="statusbar">
<rect x="6" y="713" width="1254" height="23" fill="#ca5100"/>
<text class="w" x="10" y="729" textLength="148" lengthAdjust="spacingAndGlyphs">Loaded 10 nodes and 9 links</text>
<text class="w" x="888" y="729" textLength="34" lengthAdjust="spacingAndGlyphs">Ln 334</text>
<text class="w" x="980" y="729" textLength="32" lengthAdjust="spacingAndGlyphs">Col 13</text>
<text class="w" x="1072" y="729" textLength="30" lengthAdjust="spacingAndGlyphs">Ch 13</text>
<text class="w" x="1208" y="729" textLength="18" lengthAdjust="spacingAndGlyphs">INS</text>
<path d="M1254 730h1v1h-1zM1251 733h1v1h-1zM1254 733h1v1h-1zM1248 733h1v1h-1zM1251 730h1v1h-1zM1254 727h1v1h-1z" fill="#f0d0b8"/>
</g>
</svg>
